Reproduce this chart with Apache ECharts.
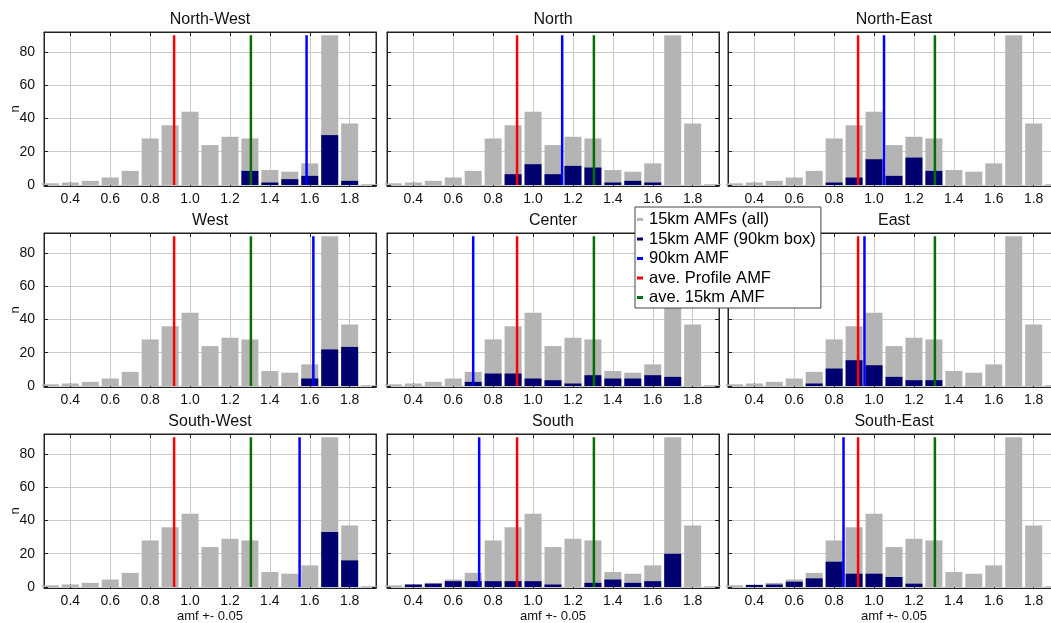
<!DOCTYPE html>
<html>
<head>
<meta charset="utf-8">
<script src="https://cdn.jsdelivr.net/npm/echarts@6/dist/echarts.min.js"></script>
<style>
html,body{margin:0;padding:0;background:#fff;}
#chart{width:1051px;height:623px;}
</style>
</head>
<body>
<div id="chart"></div>
<script>
// ---------------- data ----------------
const panelNames = ['North-West','North','North-East','West','Center','East','South-West','South','South-East'];
const binCenters = [0.3,0.4,0.5,0.6,0.7,0.8,0.9,1.0,1.1,1.2,1.3,1.4,1.5,1.6,1.7,1.8,1.9];
// 15km AMFs (all) - identical in every panel
const amfAll = [1,1.5,2.5,4.5,8.5,28,36,44,24,29,28,9,8,13,90,37,0.5];
// 15km AMF (90km box), per panel
const boxNW = [0,0,0,0,0,0,0,0,0,0,8.5,1.5,3.5,5.5,30,2.5,0];
const boxN  = [0,0,0,0,0,0,6.5,12.5,6.5,11.5,10.5,1.5,2.5,1.5,0,0,0];
const boxNE = [0,0,0,0,0,1.5,4.5,15.5,5.5,16.5,8.5,0,0,0,0,0,0];
const boxW  = [0,0,0,0,0,0,0,0,0,0,0,0,0,4.5,22,23.5,0];
const boxC  = [0,0,0,0,2.5,7.5,7.5,4.5,3.5,1.5,6.5,4.5,4.5,6.5,5.5,0,0];
const boxE  = [0,0,0,0,1.5,10.5,15.5,12.5,5.5,3.5,3.5,0,0,0,0,0,0];
const boxSW = [0,0,0,0,0,0,0,0,0,0,0,0,0,0,33,16,0];
const boxS  = [0,1.5,2,3.5,3.5,3.5,3.5,3.5,1.5,0,2.5,4.5,2.5,3.5,20,0,0];
const boxSE = [0,1.2,1.5,3.2,5.2,15.2,8,8,6,2,0,0,0,0,0,0,0];
const boxData = [boxNW,boxN,boxNE,boxW,boxC,boxE,boxSW,boxS,boxSE];
// vertical reference lines
const amf90km = [1.584,1.146,1.05,1.618,0.70,0.952,1.549,0.73,0.847];
const aveProfileAMF = 0.92;
const ave15kmAMF = 1.305;
const lineTop = 90;
// ticks
const xTicks = [0.4,0.6,0.8,1.0,1.2,1.4,1.6,1.8];
const yTicks = [0,20,40,60,80];
const seriesNames = ['15km AMFs (all)','15km AMF (90km box)','90km AMF','ave. Profile AMF','ave. 15km AMF'];

// ---------------- layout ----------------
const colLeft = [44, 387, 728];
const rowTop = [32, 233, 434];
const plotW = 332, plotH = 154;
const xMin = 0.268, xMax = 1.932;
const yMin = -0.6, yMax = 92;
const FONT = '"Liberation Sans", Arial, Helvetica, sans-serif';
const C = {gray:'#b4b4b4', navy:'#000070', blue:'#0000ff', red:'#ff0000', green:'#007000'};

const grids = [], xAxes = [], yAxes = [], series = [], graphics = [];

panelNames.forEach((name, i) => {
  const col = i % 3, row = Math.floor(i / 3);
  grids.push({
    left: colLeft[col], top: rowTop[row], width: plotW, height: plotH,
    show: true, borderColor: '#222', borderWidth: 1, backgroundColor: '#fff',
    outerBoundsMode: 'none'
  });
  xAxes.push({
    type: 'value', gridIndex: i, min: xMin, max: xMax, position: 'bottom',
    axisLine: {show: true, onZero: false, lineStyle: {color: '#222', width: 1}},
    axisTick: {show: true, inside: true, length: 4, customValues: xTicks, lineStyle: {color: '#222'}},
    axisLabel: {show: true, customValues: xTicks, margin: 6, fontSize: 14, color: '#111', fontFamily: FONT,
      formatter: v => v.toFixed(1)},
    splitLine: {show: true, lineStyle: {color: '#cacaca', width: 1}}
  });
  xAxes.push({
    type: 'value', gridIndex: i, min: xMin, max: xMax, position: 'top',
    axisLine: {show: true, onZero: false, lineStyle: {color: '#222', width: 1}},
    axisTick: {show: true, inside: true, length: 4, customValues: xTicks, lineStyle: {color: '#222'}},
    axisLabel: {show: false}, splitLine: {show: false}
  });
  yAxes.push({
    type: 'value', gridIndex: i, min: yMin, max: yMax, position: 'left',
    axisLine: {show: true, onZero: false, lineStyle: {color: '#222', width: 1}},
    axisTick: {show: true, inside: true, length: 4, customValues: yTicks, lineStyle: {color: '#222'}},
    axisLabel: {show: col === 0, customValues: yTicks, margin: 9, fontSize: 14, color: '#111', fontFamily: FONT},
    splitLine: {show: true, lineStyle: {color: '#cacaca', width: 1}}
  });
  yAxes.push({
    type: 'value', gridIndex: i, min: yMin, max: yMax, position: 'right',
    axisLine: {show: true, onZero: false, lineStyle: {color: '#222', width: 1}},
    axisTick: {show: true, inside: true, length: 4, customValues: yTicks, lineStyle: {color: '#222'}},
    axisLabel: {show: false}, splitLine: {show: false}
  });
  const xi = 2 * i, yi = 2 * i;
  series.push({
    name: seriesNames[0], type: 'bar', xAxisIndex: xi, yAxisIndex: yi,
    data: binCenters.map((x, k) => [x, amfAll[k]]),
    barWidth: 17, barGap: '-100%', color: C.gray, itemStyle: {color: C.gray},
    silent: true, animation: false, z: 2
  });
  series.push({
    name: seriesNames[1], type: 'bar', xAxisIndex: xi, yAxisIndex: yi,
    data: binCenters.map((x, k) => [x, boxData[i][k]]),
    barWidth: 17, barGap: '-100%', color: C.navy, itemStyle: {color: C.navy},
    silent: true, animation: false, z: 3
  });
  const vlines = [[seriesNames[2], amf90km[i], C.blue], [seriesNames[3], aveProfileAMF, C.red], [seriesNames[4], ave15kmAMF, C.green]];
  vlines.forEach(([nm, xv, c]) => {
    series.push({
      name: nm, type: 'line', xAxisIndex: xi, yAxisIndex: yi,
      data: [[xv, 0], [xv, lineTop]], symbol: 'none', color: c,
      itemStyle: {color: c}, lineStyle: {color: c, width: 2.5},
      silent: true, animation: false, z: 4
    });
  });
  const cx = colLeft[col] + plotW / 2;
  graphics.push({type: 'text', x: cx, y: rowTop[row] - 12, z: 10,
    style: {text: name, fontSize: 16, fontFamily: FONT, fill: '#111', textAlign: 'center', textVerticalAlign: 'middle'}});
  if (col === 0) {
    graphics.push({type: 'text', x: 15, y: rowTop[row] + plotH / 2, rotation: Math.PI / 2, z: 10,
      style: {text: 'n', fontSize: 13, fontFamily: FONT, fill: '#111', textAlign: 'center', textVerticalAlign: 'middle'}});
  }
  if (row === 2) {
    graphics.push({type: 'text', x: cx, y: 616, z: 10,
      style: {text: 'amf +- 0.05', fontSize: 13, fontFamily: FONT, fill: '#111', textAlign: 'center', textVerticalAlign: 'middle'}});
  }
});

const chart = echarts.init(document.getElementById('chart'), null, {renderer: 'canvas'});
chart.setOption({
  animation: false,
  backgroundColor: '#fff',
  grid: grids,
  xAxis: xAxes,
  yAxis: yAxes,
  series: series,
  graphic: graphics,
  legend: {
    data: seriesNames, orient: 'vertical', left: 635, top: 207,
    icon: 'rect', itemWidth: 6, itemHeight: 3, itemGap: 2.5,
    padding: [4, 5, 2, 2], backgroundColor: '#fff', borderColor: '#444', borderWidth: 1,
    textStyle: {fontSize: 16.5, fontFamily: FONT, color: '#000', lineHeight: 17, padding: [0,0,0,1]},
    selectedMode: false, z: 20
  }
});
</script>
</body>
</html>
